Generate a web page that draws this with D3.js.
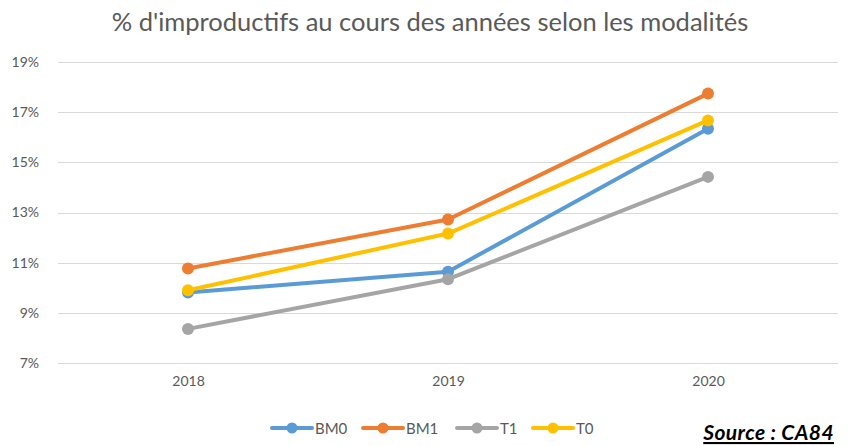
<!DOCTYPE html>
<html>
<head>
<meta charset="utf-8">
<script src="https://cdn.jsdelivr.net/npm/d3@7"></script>
<style>
  body { margin: 0; background: #fff; }
  text { font-family: Lato, "Open Sans", sans-serif; }
</style>
</head>
<body>
<div id="chart"></div>
<script>
// data
var years = ["2018", "2019", "2020"];
var seriesNames = ["BM0", "BM1", "T1", "T0"];
var seriesColors = ["#5B9BD5", "#ED7D31", "#A5A5A5", "#FFC000"];
var bm0 = [9.81, 10.64, 16.34];
var bm1 = [10.77, 12.72, 17.74];
var t1 = [8.36, 10.34, 14.42];
var t0 = [9.90, 12.16, 16.67];
var yTicks = [7, 9, 11, 13, 15, 17, 19];

var seriesValues = [bm0, bm1, t1, t0];

var width = 847, height = 446;
var margin = {top: 62, right: 9, bottom: 83, left: 58};

var svg = d3.select("#chart")
  .append("svg")
    .attr("width", width)
    .attr("height", height);

// title
svg.append("text")
  .attr("x", 430)
  .attr("y", 31)
  .attr("text-anchor", "middle")
  .style("font-size", "25.5px")
  .style("fill", "#595959")
  .text("% d'improductifs au cours des années selon les modalités");

var x = d3.scalePoint()
  .domain(years)
  .range([margin.left, width - margin.right])
  .padding(0.5);

var y = d3.scaleLinear()
  .domain([7, 19])
  .range([height - margin.bottom, margin.top]);

// gridlines
svg.append("g")
  .selectAll("line")
  .data(yTicks)
  .enter()
  .append("line")
    .attr("x1", margin.left)
    .attr("x2", width - margin.right)
    .attr("y1", function(d) { return Math.round(y(d)) + 0.5; })
    .attr("y2", function(d) { return Math.round(y(d)) + 0.5; })
    .style("stroke", "#D9D9D9")
    .style("stroke-width", 1);

// y axis labels
var yAxis = svg.append("g")
  .attr("transform", "translate(" + (margin.left - 16) + ",0)")
  .call(d3.axisLeft(y).tickValues(yTicks).tickSize(0).tickFormat(function(d) { return d + "%"; }));
yAxis.select(".domain").remove();
yAxis.selectAll("text")
  .style("font-size", "14px")
  .style("fill", "#595959")
  .style("font-family", "Lato, sans-serif");

// x axis labels
var xAxis = svg.append("g")
  .attr("transform", "translate(0," + (height - margin.bottom + 10) + ")")
  .call(d3.axisBottom(x).tickSize(0));
xAxis.select(".domain").remove();
xAxis.selectAll("text")
  .style("font-size", "14px")
  .style("fill", "#595959")
  .style("font-family", "Lato, sans-serif");

var line = d3.line()
  .x(function(d, i) { return x(years[i]); })
  .y(function(d) { return y(d); });

seriesValues.forEach(function(vals, s) {
  svg.append("path")
    .datum(vals)
    .attr("d", line)
    .style("fill", "none")
    .style("stroke", seriesColors[s])
    .style("stroke-width", 4)
    .style("stroke-linecap", "round")
    .style("stroke-linejoin", "round");

  svg.selectAll(".pt" + s)
    .data(vals)
    .enter()
    .append("circle")
      .attr("cx", function(d, i) { return x(years[i]); })
      .attr("cy", function(d) { return y(d); })
      .attr("r", 6)
      .style("fill", seriesColors[s]);
});

// legend
var legendX = [272, 363, 457, 533];
var legend = svg.append("g");
seriesNames.forEach(function(name, s) {
  var g = legend.append("g").attr("transform", "translate(" + legendX[s] + ",428)");
  g.append("line")
    .attr("x1", 0).attr("x2", 40)
    .style("stroke", seriesColors[s])
    .style("stroke-width", 4)
    .style("stroke-linecap", "round");
  g.append("circle")
    .attr("cx", 20).attr("r", 5.5)
    .style("fill", seriesColors[s]);
  g.append("text")
    .attr("x", 43)
    .attr("y", 5.5)
    .style("font-size", "15px")
    .style("fill", "#595959")
    .text(name);
});

// source
svg.append("text")
  .attr("x", 834)
  .attr("y", 440)
  .attr("text-anchor", "end")
  .style("font-size", "21px")
  .style("font-weight", "bold")
  .style("font-style", "italic")
  .style("letter-spacing", "0.4px")
  .style("text-decoration", "underline")
  .style("fill", "#000")
  .text("Source : CA84");
</script>
</body>
</html>
